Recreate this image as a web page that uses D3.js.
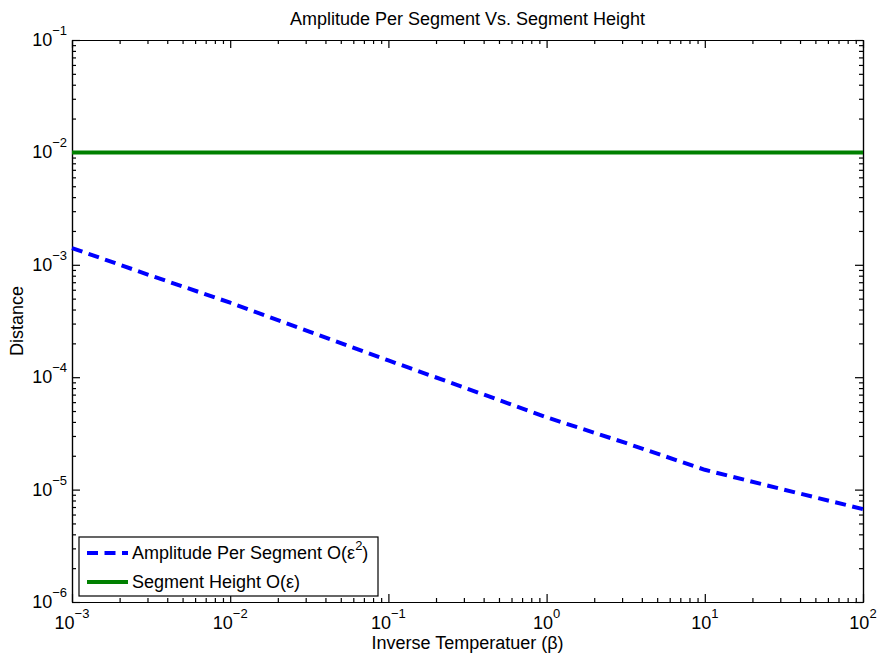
<!DOCTYPE html>
<html>
<head>
<meta charset="utf-8">
<script src="https://cdn.jsdelivr.net/npm/d3@7"></script>
<style>
    body { margin: 0; background: #fff; }
    text { font-family: "Liberation Sans", Arial, sans-serif; fill: #000; }
    .axis path, .axis line { stroke: #000; stroke-width: 1.2; }
</style>
</head>
<body>
<div id="chart"></div>
<script>
// data
var beta = [1e-3, 3.16e-3, 1e-2, 3.16e-2, 1e-1, 3.16e-1, 1, 3.16, 10, 31.6, 100];
var amplitude = [1.41e-3, 8.0e-4, 4.6e-4, 2.55e-4, 1.41e-4, 7.9e-5, 4.4e-5, 2.6e-5, 1.5e-5, 1.0e-5, 6.7e-6];
var segHeight = [1e-2, 1e-2, 1e-2, 1e-2, 1e-2, 1e-2, 1e-2, 1e-2, 1e-2, 1e-2, 1e-2];
var xExp = [-3, -2, -1, 0, 1, 2];
var yExp = [-6, -5, -4, -3, -2, -1];
var legendLabels = ["Amplitude Per Segment O(ε", "Segment Height O(ε)"];

function init() {
    const w = 878;
    const h = 654;
    const m = { left: 72, right: 15, top: 40, bottom: 52 };

    var svg = d3.select("#chart").append("svg").attr("width", w).attr("height", h);

    var xScale = d3.scaleLog().domain([1e-3, 1e2]).range([m.left, w - m.right]);
    var yScale = d3.scaleLog().domain([1e-6, 1e-1]).range([h - m.bottom, m.top]);

    // minor ticks 2..9 in each decade
    function minors(exps) {
        var out = [];
        for (var i = 0; i < exps.length - 1; i++) {
            for (var k = 2; k <= 9; k++) out.push(k * Math.pow(10, exps[i]));
        }
        return out;
    }
    var xMajor = xExp.map((e) => Math.pow(10, e));
    var yMajor = yExp.map((e) => Math.pow(10, e));

    // box with inward ticks on every side
    function drawAxis(axisFn, scale, major, minor, tr) {
        svg.append("g").attr("class", "axis").attr("transform", tr)
            .call(axisFn(scale).tickValues(minor).tickFormat("").tickSizeInner(-4).tickSizeOuter(0));
        svg.append("g").attr("class", "axis").attr("transform", tr)
            .call(axisFn(scale).tickValues(major).tickFormat("").tickSizeInner(-8).tickSizeOuter(0));
    }
    drawAxis(d3.axisBottom, xScale, xMajor, minors(xExp), "translate(0," + (h - m.bottom) + ")");
    drawAxis(d3.axisTop, xScale, xMajor, minors(xExp), "translate(0," + m.top + ")");
    drawAxis(d3.axisLeft, yScale, yMajor, minors(yExp), "translate(" + m.left + ",0)");
    drawAxis(d3.axisRight, yScale, yMajor, minors(yExp), "translate(" + (w - m.right) + ",0)");

    // tick labels 10^n
    function sup(e) { return e < 0 ? "\u2212" + (-e) : String(e); }
    xExp.forEach((e) => {
        var t = svg.append("text")
            .attr("x", xScale(Math.pow(10, e)))
            .attr("y", h - m.bottom + 27)
            .attr("text-anchor", "middle")
            .style("font-size", "18px");
        t.append("tspan").text("10");
        t.append("tspan").attr("dy", -11).style("font-size", "13px").text(sup(e));
    });
    yExp.forEach((e) => {
        var t = svg.append("text")
            .attr("x", m.left - 5)
            .attr("y", yScale(Math.pow(10, e)) + 6)
            .attr("text-anchor", "end")
            .style("font-size", "18px");
        t.append("tspan").text("10");
        t.append("tspan").attr("dy", -11).style("font-size", "13px").text(sup(e));
    });

    // lines
    var line = (vals) => d3.line()
        .x((d, i) => xScale(beta[i]))
        .y((d) => yScale(d))(vals);

    svg.append("path")
        .attr("d", line(segHeight))
        .attr("fill", "none")
        .attr("stroke", "#008000")
        .attr("stroke-width", 4);

    svg.append("path")
        .attr("d", line(amplitude))
        .attr("fill", "none")
        .attr("stroke", "#0000ff")
        .attr("stroke-width", 4)
        .attr("stroke-dasharray", "11,6.5");

    // titles
    svg.append("text")
        .attr("x", (m.left + w - m.right) / 2)
        .attr("y", 25)
        .attr("text-anchor", "middle")
        .style("font-size", "18px")
        .text("Amplitude Per Segment Vs. Segment Height");

    svg.append("text")
        .attr("x", (m.left + w - m.right) / 2)
        .attr("y", 649)
        .attr("text-anchor", "middle")
        .style("font-size", "18px")
        .text("Inverse Temperatuer (β)");

    svg.append("text")
        .attr("transform", "translate(23," + ((m.top + h - m.bottom) / 2) + ") rotate(-90)")
        .attr("text-anchor", "middle")
        .style("font-size", "18px")
        .text("Distance");

    // legend
    var lg = svg.append("g").attr("transform", "translate(79,537)");
    lg.append("rect")
        .attr("width", 299).attr("height", 59)
        .attr("fill", "#fff").attr("stroke", "#000").attr("stroke-width", 1.2);

    lg.append("line")
        .attr("x1", 8).attr("x2", 49).attr("y1", 16).attr("y2", 16)
        .attr("stroke", "#0000ff").attr("stroke-width", 4).attr("stroke-dasharray", "11,6.5");
    var t1 = lg.append("text").attr("x", 53).attr("y", 22).style("font-size", "18px");
    t1.append("tspan").text(legendLabels[0]);
    t1.append("tspan").attr("dy", -9).style("font-size", "13px").text("2");
    t1.append("tspan").attr("dy", 9).text(")");

    lg.append("line")
        .attr("x1", 8).attr("x2", 49).attr("y1", 45).attr("y2", 45)
        .attr("stroke", "#008000").attr("stroke-width", 4);
    lg.append("text").attr("x", 53).attr("y", 51).style("font-size", "18px").text(legendLabels[1]);
}

window.onload = init();
</script>
</body>
</html>
